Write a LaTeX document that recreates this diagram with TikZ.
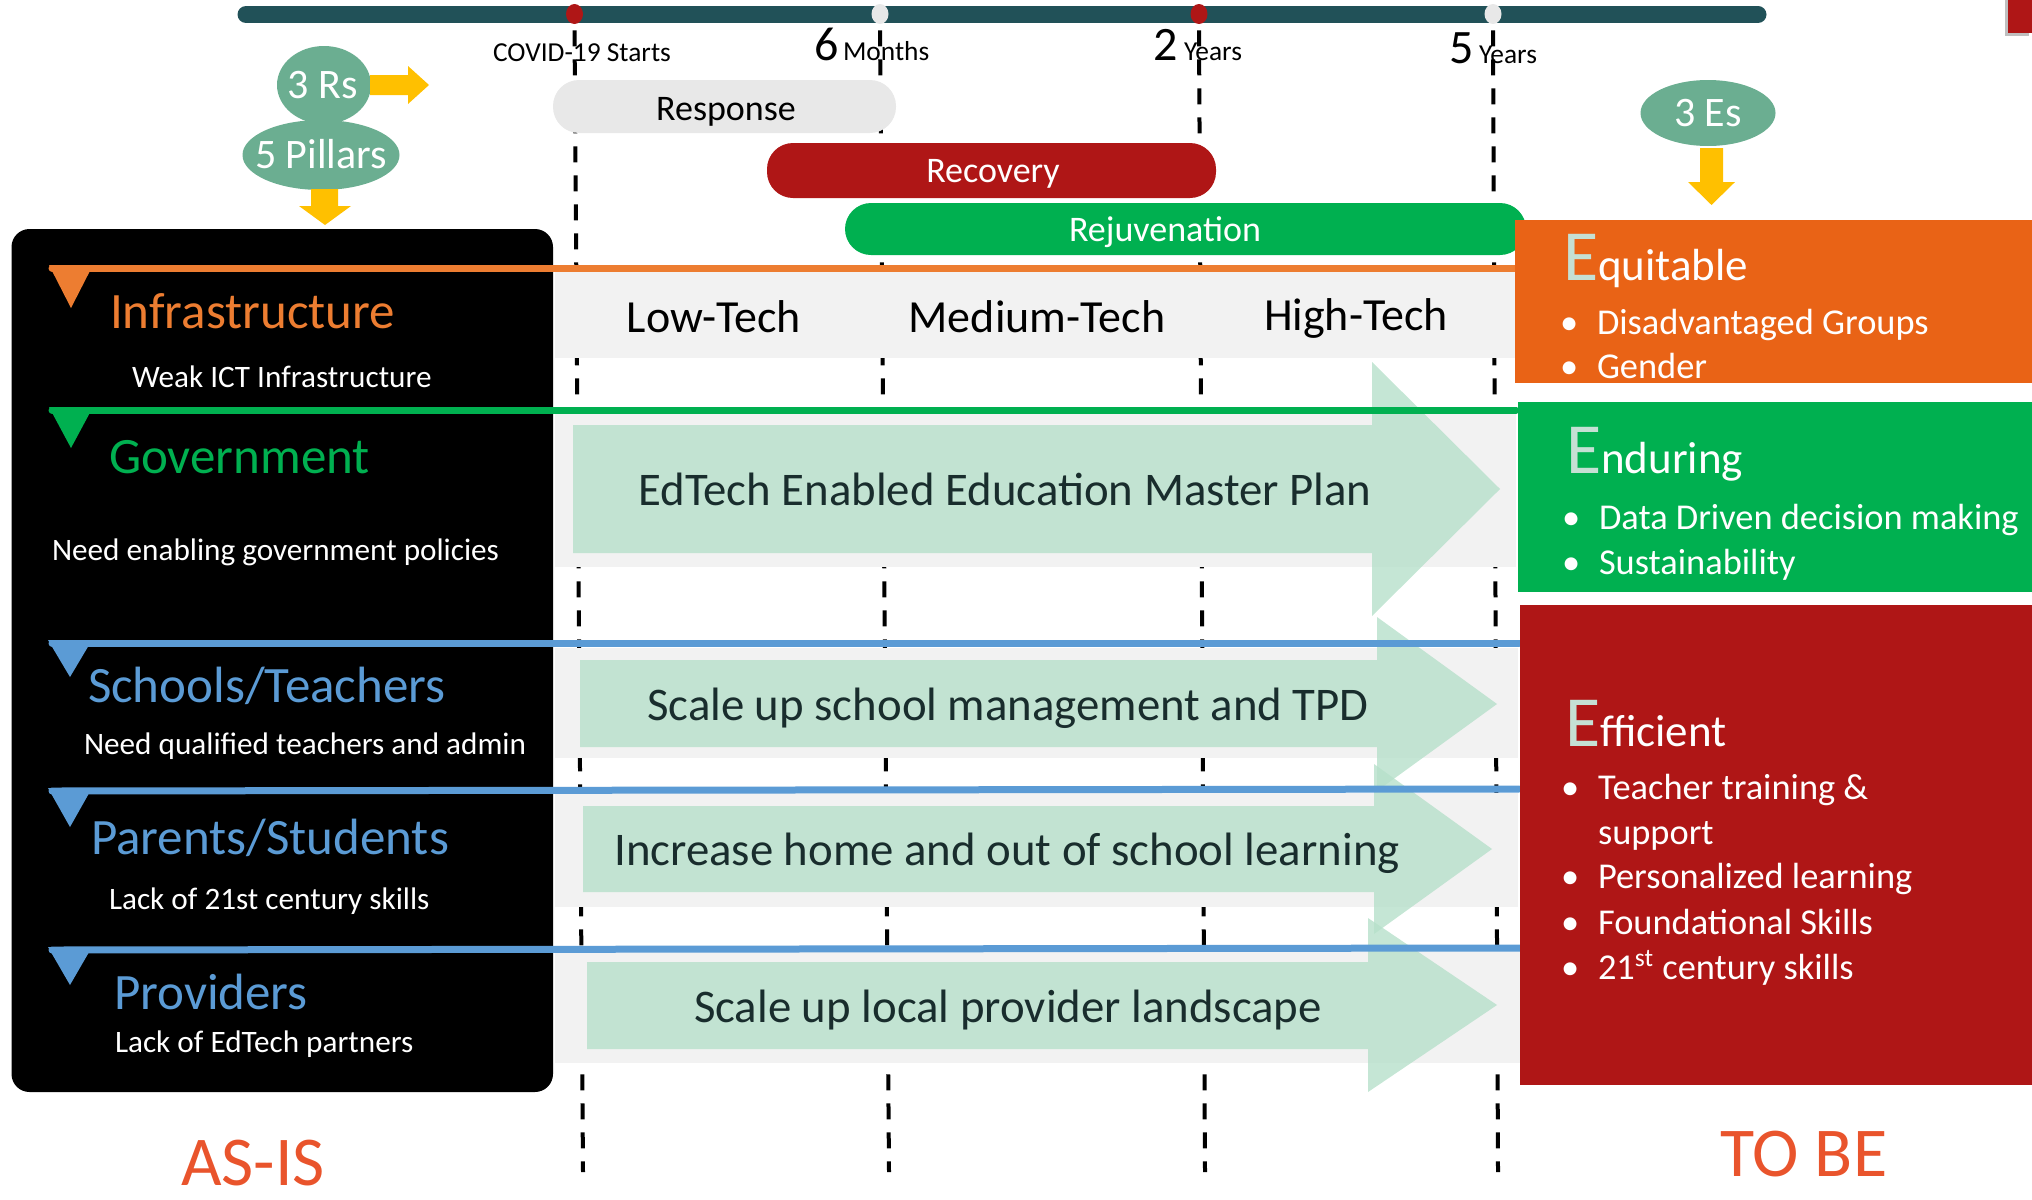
\documentclass[tikz,border=0pt]{standalone}
\usepackage{fontspec}
\setmainfont{Carlito}
\usetikzlibrary{shapes.geometric}
\definecolor{barcol}{RGB}{33,81,88}
\definecolor{redc}{RGB}{175,22,22}
\definecolor{grayc}{RGB}{232,232,232}
\definecolor{greenc}{RGB}{0,176,80}
\definecolor{orangel}{RGB}{237,125,49}
\definecolor{orangebox}{RGB}{233,99,22}
\definecolor{bluec}{RGB}{91,155,213}
\definecolor{mintc}{RGB}{182,224,202}
\definecolor{bandc}{RGB}{242,242,242}
\definecolor{tealc}{RGB}{107,174,145}
\definecolor{yellowc}{RGB}{255,192,0}
\definecolor{minte}{RGB}{197,224,212}
\definecolor{asisc}{RGB}{233,84,44}
\definecolor{darktxt}{RGB}{25,45,45}
\newcommand{\myfs}[1]{\fontsize{#1pt}{#1pt}\selectfont}
\tikzset{
  t/.style={inner sep=0pt, outer sep=0pt},
  dashline/.style={line width=2pt, dash pattern=on 8pt off 6.5pt},
  pill/.style={rounded corners=13pt, inner sep=0pt},
  dot/.style={ellipse, inner sep=0pt, minimum width=8.5pt, minimum height=10pt},
  band/.style={fill=bandc},
  marrow/.style={fill=mintc, fill opacity=0.8},
  hline/.style={line width=3.5pt, line cap=round},
  head/.style={t, anchor=base west, font=\myfs{25.5}},
  sub/.style={t, anchor=base west, text=white, font=\myfs{15.6}},
  midtxt/.style={t, anchor=base, text=darktxt, font=\myfs{23.4}},
  techtxt/.style={t, anchor=base, text=black, font=\myfs{23}},
  bul/.style={t, anchor=base west, text=white, font=\myfs{18.2}},
  bdot/.style={t, anchor=base west, text=white, font=\myfs{18.2}},
  ehead/.style={t, anchor=base west, text=white, font=\myfs{22.5}},
  oval/.style={ellipse, fill=tealc, inner sep=0pt},
  ovaltxt/.style={t, anchor=base, text=white, font=\myfs{21}},
  yarrow/.style={fill=yellowc}
}
\begin{document}
\begin{tikzpicture}[x=0.5pt,y=-0.5pt]
\useasboundingbox (0,0) rectangle (2032,1199);

% top labels
\node[t, anchor=base] (covid) at (582,61) {\myfs{13.7}COVID-19 Starts};
\node[t, anchor=base west] (six) at (814,60) {\myfs{24}6};
\node[t, anchor=base west] (months) at (843,60) {\myfs{13.7}Months};
\node[t, anchor=base west] (two) at (1153,60) {\myfs{24}2};
\node[t, anchor=base west] (yrs2) at (1184,60) {\myfs{13.7}Years};
\node[t, anchor=base west] (five) at (1449,63) {\myfs{24}5};
\node[t, anchor=base west] (yrs5) at (1479,63) {\myfs{13.7}Years};

% timeline bar
\coordinate (barL) at (246,14.5);
\coordinate (barR) at (1758,14.5);
\draw[barcol, line width=8.5pt, line cap=round] (barL) -- (barR);
\node[dot, fill=redc] (d1) at (574.5,14) {};
\node[dot, fill=grayc] (d2) at (880,14) {};
\node[dot, fill=redc] (d3) at (1199,14) {};
\node[dot, fill=grayc] (d4) at (1493,14) {};

% dashed verticals
\coordinate (b1) at (583,1172);
\coordinate (b2) at (889,1172);
\coordinate (b3) at (1205,1172);
\coordinate (b4) at (1498,1172);
\draw[dashline] ([yshift=-3pt]d1.south) -- (b1);
\draw[dashline] ([yshift=-3pt]d2.south) -- (b2);
\draw[dashline] ([yshift=-3pt]d3.south) -- (b3);
\draw[dashline] ([yshift=-3pt]d4.south) -- (b4);

% phase pills
\node[pill, fill=grayc, minimum width=171.5pt, minimum height=26.5pt] (resp) at (724.5,106.5) {};
\node[t, anchor=base] (resptxt) at (726,120) {\myfs{18}Response};
\node[pill, fill=redc, minimum width=224.5pt, minimum height=27.5pt] (recov) at (991.5,170.5) {};
\node[t, anchor=base, text=white] (recovtxt) at (993,182) {\myfs{18}Recovery};
\node[pill, fill=greenc, minimum width=340.5pt, minimum height=26pt] (rejuv) at (1185.5,229) {};
\node[t, anchor=base, text=white] (rejuvtxt) at (1165,241) {\myfs{18}Rejuvenation};

% gray bands
\fill[band] (555,270) rectangle (1516,358);
\fill[band] (555,413) rectangle (1516,567);
\fill[band] (555,648) rectangle (1518,758);
\fill[band] (555,793) rectangle (1518,907);
\fill[band] (555,951) rectangle (1520,1063);

% left black panel
\fill[black, rounded corners=9pt] (11.5,229) rectangle (553,1092);

% mint arrows
\fill[marrow] (573,425) -- (1372,425) -- (1372,362) -- (1500,489) -- (1372,616) -- (1372,553) -- (573,553) -- cycle;
\fill[marrow] (580,660) -- (1377,660) -- (1377,617) -- (1497,704) -- (1377,791) -- (1377,747) -- (580,747) -- cycle;
\fill[marrow] (583,806) -- (1374,806) -- (1374,764) -- (1492,849) -- (1374,934) -- (1374,892) -- (583,892) -- cycle;
\fill[marrow] (587,962) -- (1368,962) -- (1368,918) -- (1497,1005) -- (1368,1092) -- (1368,1049) -- (587,1049) -- cycle;

% coloured row lines with triangles
\draw[hline, orangel] (52,268) -- (1516,268);
\fill[orangel] (49,265) -- (93,265) -- (71,308) -- cycle;
\draw[hline, greenc] (52,410) -- (1516,410);
\fill[greenc] (49,407) -- (93,407) -- (71,448) -- cycle;
\draw[hline, bluec] (52,643) -- (1519,643);
\fill[bluec] (48,640) -- (92,640) -- (70,677) -- cycle;
\draw[hline, bluec] (52,791) -- (1519,789);
\fill[bluec] (48,788) -- (92,788) -- (70,827) -- cycle;
\draw[hline, bluec] (52,950) -- (1523,948);
\fill[bluec] (48,947) -- (92,947) -- (70,985) -- cycle;

% tech levels
\node[techtxt] (low) at (714,332) {Low-Tech};
\node[techtxt] (med) at (1037,332) {Medium-Tech};
\node[techtxt] (high) at (1356,330) {High-Tech};

% arrow texts
\node[midtxt] (plan) at (1005,505) {EdTech Enabled Education Master Plan};
\node[midtxt] (school) at (1008,720) {Scale up school management and TPD};
\node[midtxt] (home) at (1007,865) {Increase home and out of school learning};
\node[midtxt] (prov) at (1008,1022) {Scale up local provider landscape};

% left panel texts
\node[head, text=orangel] (infra) at (110,328) {Infrastructure};
\node[sub] (infrasub) at (132,387) {Weak ICT Infrastructure};
\node[head, text=greenc] (gov) at (109,473) {Government};
\node[sub] (govsub) at (52,560) {Need enabling government policies};
\node[head, text=bluec] (schools) at (88,702) {Schools/Teachers};
\node[sub] (schoolsub) at (84,754) {Need qualified teachers and admin};
\node[head, text=bluec] (parents) at (91,854) {Parents/Students};
\node[sub] (parentsub) at (109,909) {Lack of 21st century skills};
\node[head, text=bluec] (providers) at (114,1009) {Providers};
\node[sub] (provsub) at (115,1052) {Lack of EdTech partners};

% right boxes
\fill[orangebox] (1515,220) rectangle (2032,383);
\fill[greenc] (1518,402) rectangle (2032,592);
\fill[redc] (1520,605) rectangle (2032,1085);
\fill[black!25] (2005,0) rectangle (2029,36);
\fill[redc] (2008,0) rectangle (2032,33);

\node[ehead] (equit) at (1563,280) {\textcolor{minte}{\myfs{36}E}quitable};
\node[bdot] (eb1) at (1560,334) {•};
\node[bul] (eq1) at (1597,334) {Disadvantaged Groups};
\node[bdot] (eb2) at (1560,378) {•};
\node[bul] (eq2) at (1597,378) {Gender};

\node[ehead] (endur) at (1566,473) {\textcolor{minte}{\myfs{36}E}nduring};
\node[bdot] (nb1) at (1562,529) {•};
\node[bul] (en1) at (1599,529) {Data Driven decision making};
\node[bdot] (nb2) at (1562,574) {•};
\node[bul] (en2) at (1599,574) {Sustainability};

\node[ehead] (effic) at (1565,746) {\textcolor{minte}{\myfs{36}E}fficient};
\node[bdot] (fb1) at (1561,799) {•};
\node[bul] (ef1) at (1598,799) {Teacher training \&};
\node[bul] (ef1b) at (1598,844) {support};
\node[bdot] (fb2) at (1561,888) {•};
\node[bul] (ef2) at (1598,888) {Personalized learning};
\node[bdot] (fb3) at (1561,934) {•};
\node[bul] (ef3) at (1598,934) {Foundational Skills};
\node[bdot] (fb4) at (1561,979) {•};
\node[bul] (ef4) at (1598,979) {21\textsuperscript{st} century skills};

% 3 Rs / 5 Pillars / 3 Es
\node[oval, minimum width=47pt, minimum height=39pt] (rs) at (324,85) {};
\node[oval, minimum width=78.5pt, minimum height=35pt] (pillars) at (321,155) {};
\node[oval, minimum width=67.5pt, minimum height=33pt] (es) at (1708,113) {};
\node[ovaltxt] (rstxt) at (323,98) {3 Rs};
\node[ovaltxt] (pillarstxt) at (321,168) {5 Pillars};
\node[ovaltxt] (estxt) at (1708,126) {3 Es};

\fill[yarrow] (370,75) -- (408,75) -- (408,66) -- (429,85) -- (408,104) -- (408,95) -- (370,95) -- cycle;
\fill[yarrow] (311,189) -- (338,189) -- (338,206) -- (351,206) -- (325,225) -- (299,206) -- (311,206) -- cycle;
\fill[yarrow] (1700,148) -- (1723,148) -- (1723,182) -- (1735,182) -- (1711.5,205) -- (1688,182) -- (1700,182) -- cycle;

% AS-IS / TO BE
\node[t, anchor=base, text=asisc] (asis) at (253,1185) {\myfs{35}AS-IS};
\node[t, anchor=base, text=asisc] (tobe) at (1804,1176) {\myfs{35}TO BE};
\end{tikzpicture}
\end{document}
